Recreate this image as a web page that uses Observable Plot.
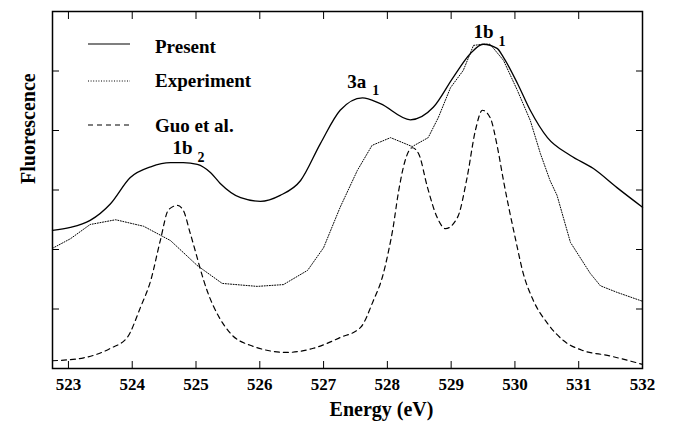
<!DOCTYPE html>
<html>
<head>
<meta charset="utf-8">
<script src="https://cdn.jsdelivr.net/npm/d3@7"></script>
<script src="https://cdn.jsdelivr.net/npm/@observablehq/plot@0.6"></script>
<style>
  body { margin: 0; background: #fff; }
  #chart svg, #chart svg text, #chart svg g { font-family: "Liberation Serif" !important; font-weight: bold !important; }
</style>
</head>
<body>
<div id="chart"></div>
<script>
// X-ray emission spectrum: fluorescence intensity (arb. units) vs photon energy (eV)

// Present calculation (solid)
const presentEnergy = [522.75, 523.03, 523.34, 523.66, 523.97, 524.29, 524.60, 524.80, 525.02, 525.23, 525.38,
  525.70, 526.01, 526.32, 526.64, 526.95, 527.26, 527.61, 527.89, 528.36, 528.72, 529.03, 529.30, 529.50,
  529.72, 529.82, 530.04, 530.24, 530.51, 530.87, 531.23, 531.60, 532.00];
const presentIntensity = [2.32, 2.37, 2.49, 2.77, 3.21, 3.39, 3.46, 3.46, 3.43, 3.29, 3.11,
  2.87, 2.81, 2.91, 3.16, 3.78, 4.34, 4.55, 4.45, 4.18, 4.39, 4.89, 5.29, 5.45,
  5.38, 5.23, 4.79, 4.34, 3.88, 3.58, 3.36, 3.04, 2.71];

// Experiment (dotted)
const experimentEnergy = [522.75, 523.03, 523.34, 523.74, 524.18, 524.60, 525.02, 525.41, 525.96, 526.37,
  526.75, 527.00, 527.26, 527.53, 527.76, 528.05, 528.39, 528.64, 528.80, 528.99, 529.19, 529.35, 529.50,
  529.61, 529.82, 530.04, 530.24, 530.40, 530.55, 530.66, 530.87, 531.18, 531.34, 531.60, 532.00];
const experimentIntensity = [2.02, 2.18, 2.42, 2.50, 2.39, 2.15, 1.73, 1.43, 1.38, 1.41,
  1.65, 2.03, 2.71, 3.33, 3.75, 3.88, 3.73, 3.88, 4.22, 4.72, 5.01, 5.43, 5.45,
  5.45, 5.18, 4.67, 4.17, 3.61, 3.16, 2.91, 2.12, 1.60, 1.39, 1.28, 1.13];

// Guo et al. (dashed)
const guoEnergy = [522.75, 523.24, 523.66, 523.92, 524.13, 524.29, 524.44, 524.57, 524.71, 524.80, 524.91,
  525.18, 525.54, 525.85, 526.43, 526.84, 527.26, 527.58, 527.78, 527.92, 528.02, 528.09, 528.17, 528.28,
  528.39, 528.49, 528.63, 528.78, 528.91, 529.10, 529.25, 529.38, 529.49, 529.61, 529.72, 529.82, 530.01,
  530.13, 530.29, 530.51, 530.76, 531.07, 531.45, 532.00];
const guoIntensity = [0.13, 0.18, 0.34, 0.52, 1.03, 1.48, 2.15, 2.67, 2.74, 2.66, 2.27,
  1.29, 0.59, 0.39, 0.27, 0.34, 0.52, 0.69, 1.14, 1.53, 1.98, 2.37, 2.94, 3.50,
  3.71, 3.61, 3.04, 2.54, 2.35, 2.54, 3.21, 4.00, 4.34, 4.22, 3.75, 3.16, 2.17,
  1.60, 1.14, 0.76, 0.47, 0.30, 0.22, 0.07];

// Axis ticks
const energyTicks = [523, 524, 525, 526, 527, 528, 529, 530, 531, 532];
const intensityTicks = [1, 2, 3, 4, 5];

// Orbital peak labels (name + subscript)
const peakNames = ["1b", "3a", "1b"];
const peakSubs = ["2", "1", "1"];
const peakEnergy = [524.63, 527.37, 529.35];
const peakLevel = [3.70, 4.82, 5.65];

// Legend entries
const legendLabels = ["Present", "Experiment", "Guo et al."];

const FONT = "Liberation Serif";
const dotted = "1,1.6";
const dashed = "5,4";
const legendDashes = [null, dotted, dashed];

const rows = (es, is) => es.map((e, i) => ({energy: e, intensity: is[i]}));
const present = rows(presentEnergy, presentIntensity);
const experiment = rows(experimentEnergy, experimentIntensity);
const guo = rows(guoEnergy, guoIntensity);
const peaks = peakNames.map((n, i) => ({name: n, sub: peakSubs[i], energy: peakEnergy[i], level: peakLevel[i]}));

// Legend drawn inside the frame, positioned relative to the plot area
function legend(index, scales, values, dims) {
  const g = d3.create("svg:g")
    .attr("font-size", 19)
    .attr("text-anchor", "start");
  const lineY = [33, 70, 114];
  const textY = [42, 76, 121];
  legendLabels.forEach((label, i) => {
    const y = dims.marginTop + lineY[i];
    g.append("line")
      .attr("x1", dims.marginLeft + 36).attr("x2", dims.marginLeft + 78)
      .attr("y1", y).attr("y2", y)
      .attr("stroke", "black")
      .attr("stroke-width", i === 1 ? 1 : 1.2)
      .attr("stroke-dasharray", legendDashes[i]);
    g.append("text")
      .attr("x", dims.marginLeft + 103)
      .attr("y", dims.marginTop + textY[i])
      .attr("fill", "black")
      .text(label);
  });
  return g.node();
}

const blank = () => "";

const chart = Plot.plot({
  width: 678,
  height: 425,
  marginLeft: 52,
  marginRight: 36,
  marginTop: 11,
  marginBottom: 57,
  style: {fontSize: "17px", background: "#fff", color: "black"},
  x: {domain: [522.75, 532], label: null},
  y: {domain: [0, 6], label: null},
  marks: [
    Plot.axisX(energyTicks, {anchor: "bottom", tickSize: -7, tickPadding: 16, label: null, fontSize: 17}),
    Plot.axisX(energyTicks, {anchor: "top", tickSize: -7, tickFormat: blank, label: null}),
    Plot.axisY(intensityTicks, {anchor: "left", tickSize: -7, tickFormat: blank, label: null}),
    Plot.axisY(intensityTicks, {anchor: "right", tickSize: -7, tickFormat: blank, label: null}),
    Plot.line(guo, {x: "energy", y: "intensity", curve: "monotone-x", stroke: "black", strokeWidth: 1.2, strokeDasharray: dashed}),
    Plot.line(experiment, {x: "energy", y: "intensity", curve: "linear", stroke: "black", strokeWidth: 1, strokeDasharray: dotted}),
    Plot.line(present, {x: "energy", y: "intensity", curve: "monotone-x", stroke: "black", strokeWidth: 1.3}),
    Plot.text(peaks, {x: "energy", y: "level", text: "name", textAnchor: "start", lineAnchor: "middle", fontSize: 19}),
    Plot.text(peaks, {x: "energy", y: "level", text: "sub", textAnchor: "start", lineAnchor: "middle", dx: 25, dy: 9, fontSize: 14}),
    legend,
    Plot.text(["Energy (eV)"], {frameAnchor: "bottom", text: d => d, dx: 34, dy: 41, lineAnchor: "middle", fontSize: 20}),
    Plot.text(["Fluorescence"], {frameAnchor: "left", text: d => d, rotate: -90, dx: -24, dy: -6, lineAnchor: "middle", fontSize: 20}),
    Plot.frame({stroke: "black", strokeWidth: 1.5})
  ]
});

// Serif bold lettering on every text element
chart.querySelectorAll("text").forEach(t => {
  t.style.setProperty("font-family", FONT, "important");
  t.style.setProperty("font-weight", "bold", "important");
});

document.getElementById("chart").appendChild(chart);
</script>
</body>
</html>
